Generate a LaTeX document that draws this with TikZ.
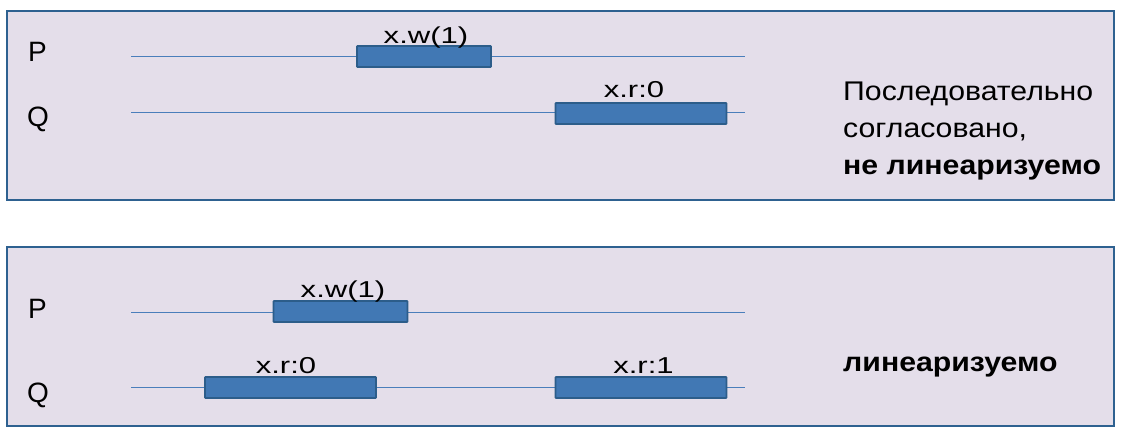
\documentclass[tikz,border=0pt]{standalone}
\usepackage{graphicx}
\usepackage{fontspec}
\setmainfont{Liberation Sans}
\definecolor{panelfill}{HTML}{E4DEEA}
\definecolor{paneledge}{HTML}{2E6190}
\definecolor{barfill}{HTML}{4178B4}
\definecolor{baredge}{HTML}{2C5D8A}
\definecolor{tline}{HTML}{4A7EBB}
\newcommand{\oplab}[1]{\scalebox{1.35}[1]{#1}}
\newcommand{\verd}[1]{\scalebox{1.12}[1]{#1}}
\tikzset{
  panel/.style={draw=paneledge, line width=2.2pt, fill=panelfill},
  opbar/.style={draw=baredge, line width=1.9pt, fill=barfill, rounded corners=0.8pt, inner sep=0pt, minimum height=21pt},
  tl/.style={draw=tline, line width=1pt},
  proc/.style={anchor=base west, inner sep=0pt, font=\fontsize{28}{30}\selectfont},
  oplabel/.style={anchor=base, inner sep=0pt, font=\fontsize{23}{26}\selectfont},
  verdict/.style={anchor=base west, inner sep=0pt, font=\fontsize{27}{30}\selectfont}
}
\begin{document}
\begin{tikzpicture}[x=1pt, y=-1pt]
\useasboundingbox (0,0) rectangle (1124,433);
% panels
\path[panel] (7,11) rectangle (1114,200);
\path[panel] (7,247) rectangle (1114,426);
% ---- top panel ----
\node[proc] (p1) at (28,62) {P};
\node[proc] (q1) at (27,127) {Q};
\coordinate (p1s) at (131,57); \coordinate (p1e) at (745,57);
\coordinate (q1s) at (131,113); \coordinate (q1e) at (745,113);
\draw[tl] (p1s) -- (p1e);
\draw[tl] (q1s) -- (q1e);
\node[opbar, minimum width=134pt] (b1) at (424,56.5) {};
\node[opbar, minimum width=171pt] (b2) at (641,113.5) {};
\node[oplabel] (l1) at (426,43.5) {\oplab{x.w(1)}};
\node[oplabel] (l2) at (634,98) {\oplab{x.r:0}};
\node[verdict] (t1) at (843,101) {\verd{Последовательно}};
\node[verdict] (t2) at (843,138) {\verd{согласовано,}};
\node[verdict] (t3) at (843,175) {\verd{\bfseries не линеаризуемо}};
% ---- bottom panel ----
\node[proc] (p2) at (28,318) {P};
\node[proc] (q2) at (27,402) {Q};
\coordinate (p2s) at (131,312); \coordinate (p2e) at (745,312);
\coordinate (q2s) at (131,387); \coordinate (q2e) at (745,387);
\draw[tl] (p2s) -- (p2e);
\draw[tl] (q2s) -- (q2e);
\node[opbar, minimum width=134pt] (b3) at (340.5,311.5) {};
\node[opbar, minimum width=171pt] (b4) at (290.5,387.5) {};
\node[opbar, minimum width=171pt] (b5) at (641,387.5) {};
\node[oplabel] (l3) at (343,297.3) {\oplab{x.w(1)}};
\node[oplabel] (l4) at (286,373.3) {\oplab{x.r:0}};
\node[oplabel] (l5) at (643.5,373.3) {\oplab{x.r:1}};
\node[verdict] (t4) at (843,371) {\verd{\bfseries линеаризуемо}};
\end{tikzpicture}
\end{document}
